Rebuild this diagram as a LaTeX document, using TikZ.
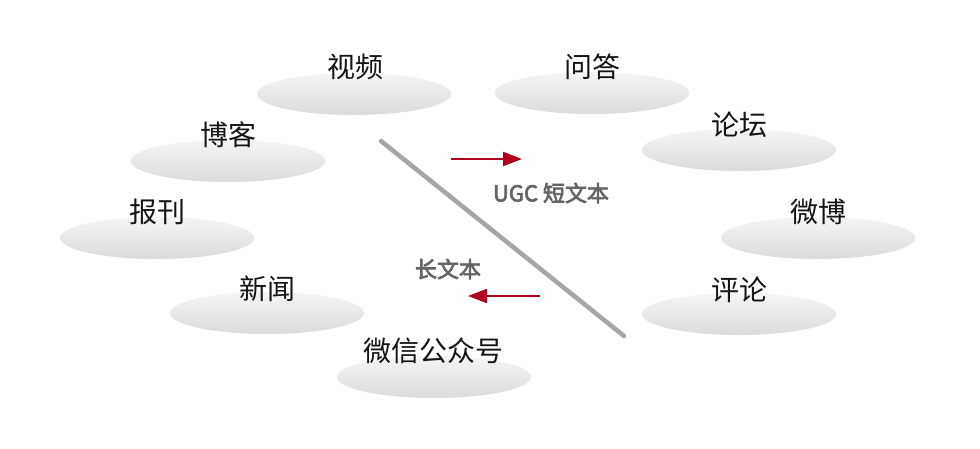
\documentclass[tikz,border=0pt]{standalone}
\usepackage{fontspec}
\setmainfont{Noto Sans CJK SC}
\newfontfamily\notefont[FakeBold=3]{Noto Sans CJK SC}
\usetikzlibrary{shapes.geometric,arrows.meta}
\definecolor{arrowred}{HTML}{B0001E}
\definecolor{linegray}{HTML}{A6A6A6}
\definecolor{labelgray}{HTML}{646464}
\definecolor{textblack}{HTML}{151515}
\tikzset{
  cloud/.style={ellipse, minimum width=194pt, minimum height=42pt, inner sep=0pt,
    top color=white!96!black, bottom color=black!14, draw=none},
  word/.style={text=textblack, font=\fontsize{28}{28}\selectfont, inner sep=0pt, anchor=center},
  note/.style={text=labelgray, font=\notefont\fontsize{22}{22}\selectfont, inner sep=0pt, anchor=center},
  divider/.style={draw=linegray, line width=4.5pt, line cap=round},
  flow/.style={draw=arrowred, line width=2pt, -{Triangle[length=19pt,width=14pt]}}
}
\begin{document}
\begin{tikzpicture}[x=1pt,y=-1pt]
\useasboundingbox[fill=white] (0,0) rectangle (980,448);
% ellipses
\node[cloud] (e1) at (354,94) {};
\node[cloud] (e2) at (592,93) {};
\node[cloud] (e3) at (228,161) {};
\node[cloud] (e4) at (739,150) {};
\node[cloud] (e5) at (157,238) {};
\node[cloud] (e6) at (818,238) {};
\node[cloud] (e7) at (267,313) {};
\node[cloud] (e8) at (739,314) {};
\node[cloud] (e9) at (434,377) {};
% words
\node[word] (t1) at (355,67) {视频};
\node[word] (t2) at (592,67) {问答};
\node[word] (t3) at (228,135) {博客};
\node[word] (t4) at (739,125) {论坛};
\node[word] (t5) at (157,212) {报刊};
\node[word] (t6) at (818,212) {微博};
\node[word] (t7) at (267,289) {新闻};
\node[word] (t8) at (739,290) {评论};
\node[word] (t9) at (433,351) {微信公众号};
% divider
\coordinate (d1) at (381,141);
\coordinate (d2) at (624,336);
\draw[divider] (d1) -- (d2);
% arrows
\coordinate (a1) at (451,159);
\coordinate (a2) at (522,159);
\draw[flow] (a1) -- (a2);
\coordinate (b1) at (540,296);
\coordinate (b2) at (468,296);
\draw[flow] (b1) -- (b2);
% notes
\node[note] (n1) at (551,193) {UGC 短文本};
\node[note] (n2) at (448,269) {长文本};
\end{tikzpicture}
\end{document}
